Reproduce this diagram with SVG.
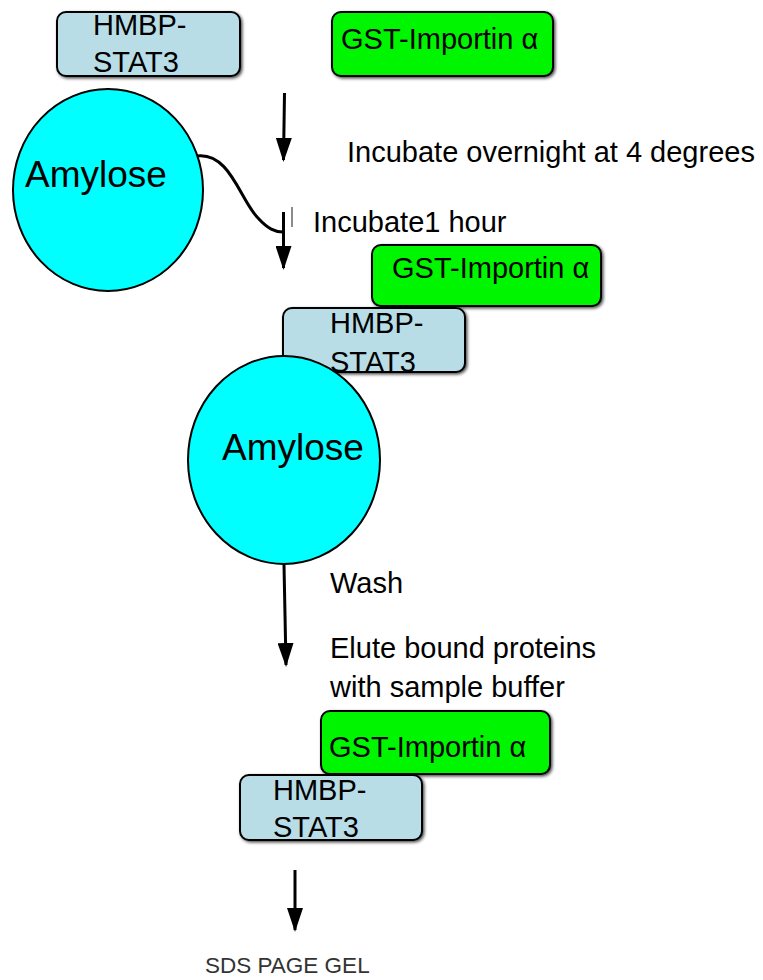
<svg xmlns="http://www.w3.org/2000/svg" width="763" height="980" viewBox="0 0 763 980">
<defs>
<filter id="sh" x="-10%" y="-10%" width="120%" height="130%">
<feDropShadow dx="1.5" dy="1.5" stdDeviation="1.5" flood-color="#000" flood-opacity="0.7"/>
</filter>
<marker id="ah" viewBox="0 0 24 16" refX="22" refY="8" markerWidth="24" markerHeight="16" markerUnits="userSpaceOnUse" orient="auto">
<path d="M0,0 L24,8 L0,16 Z" fill="#000"/>
</marker>
</defs>
<style>
.hm{fill:#b8dde7;stroke:#000;stroke-width:2;filter:url(#sh)}
.gs{fill:#00f500;stroke:#000;stroke-width:2;filter:url(#sh)}
.am{fill:#00ffff;stroke:#000;stroke-width:2}
.t{font-family:"Liberation Sans",Arial,sans-serif;font-size:29px;fill:#000}
.big{font-family:"Liberation Sans",Arial,sans-serif;font-size:37px;fill:#000}
.ln{fill:none;stroke:#000;stroke-width:3}
</style>
<g id="hmbp1"><rect class="hm" x="57" y="12" width="183" height="64" rx="9"/><text class="t" x="93" y="35">HMBP-</text><text class="t" x="93" y="72">STAT3</text></g>
<g id="gst1"><rect class="gs" x="332" y="12" width="221" height="64" rx="9"/><text class="t" x="341" y="49">GST-Importin α</text></g>
<g id="amylose1"><ellipse class="am" cx="108" cy="190" rx="95" ry="101"/><text class="big" x="25" y="187">Amylose</text></g>
<g id="gst2"><rect class="gs" x="372" y="245" width="229" height="61" rx="9"/><text class="t" x="392" y="278">GST-Importin α</text></g>
<g id="hmbp2"><rect class="hm" x="283" y="308" width="182" height="64" rx="9"/><text class="t" x="330" y="333">HMBP-</text><text class="t" x="330" y="372">STAT3</text></g>
<g id="amylose2"><ellipse class="am" cx="284" cy="460" rx="96" ry="104"/><text class="big" x="222" y="460">Amylose</text></g>
<g id="gst3"><rect class="gs" x="321" y="711" width="229" height="63" rx="9"/><text class="t" x="329" y="757">GST-Importin α</text></g>
<g id="hmbp3"><rect class="hm" x="240" y="775" width="182" height="65" rx="9"/><text class="t" x="273" y="800">HMBP-</text><text class="t" x="273" y="837">STAT3</text></g>
<g id="labels">
<text class="t" x="347" y="162">Incubate overnight at 4 degrees</text>
<text class="t" x="313" y="232">Incubate1 hour</text>
<text class="t" x="330" y="593">Wash</text>
<text class="t" x="330" y="658">Elute bound proteins</text>
<text class="t" x="330" y="697">with sample buffer</text>
<text x="205" y="973" style="font-family:'Liberation Sans',Arial,sans-serif;font-size:22.5px;fill:#333">SDS PAGE GEL</text>
</g>
<g id="connectors">
<path class="ln" d="M284.5,93 L283.5,160" marker-end="url(#ah)"/>
<path class="ln" d="M197,156 C230,152 240,200 258,218 C268,229 275,232 283,232"/>
<path class="ln" d="M283.5,212 L283.5,268" marker-end="url(#ah)"/>
<path d="M292,207 L292,227" stroke="#666" stroke-width="1.5"/>
<path class="ln" d="M284,565 L286,665" marker-end="url(#ah)"/>
<path class="ln" d="M295,870 L295,930" marker-end="url(#ah)"/>
</g>
</svg>
